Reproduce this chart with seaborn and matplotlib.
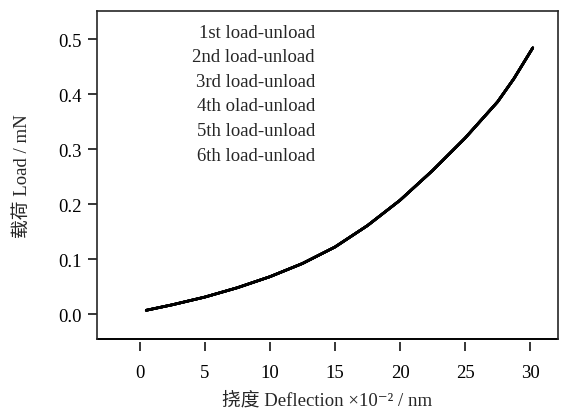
import pandas as pd
import numpy as np
import matplotlib
matplotlib.use("Agg")
import matplotlib.pyplot as plt
import seaborn as sns

# deflection (x10^-2 nm) and load (mN);
# the six cycles lie on top of each other
deflection = [0.5, 2.5, 5, 7.5, 10, 12.5, 15, 17.5, 20, 22.5, 25, 27.5, 28.75, 30.2]
load_1st = [0.007, 0.017, 0.031, 0.048, 0.068, 0.092, 0.122, 0.161, 0.207, 0.261, 0.320, 0.386, 0.428, 0.484]
load_2nd = [0.007, 0.017, 0.031, 0.048, 0.068, 0.092, 0.122, 0.161, 0.207, 0.261, 0.320, 0.386, 0.428, 0.484]
load_3rd = [0.007, 0.017, 0.031, 0.048, 0.068, 0.092, 0.122, 0.161, 0.207, 0.261, 0.320, 0.386, 0.428, 0.484]
load_4th = [0.007, 0.017, 0.031, 0.048, 0.068, 0.092, 0.122, 0.161, 0.207, 0.261, 0.320, 0.386, 0.428, 0.484]
load_5th = [0.007, 0.017, 0.031, 0.048, 0.068, 0.092, 0.122, 0.161, 0.207, 0.261, 0.320, 0.386, 0.428, 0.484]
load_6th = [0.007, 0.017, 0.031, 0.048, 0.068, 0.092, 0.122, 0.161, 0.207, 0.261, 0.320, 0.386, 0.428, 0.484]

cycle_labels = ["1st load-unload", "2nd load-unload", "3rd load-unload",
                "4th olad-unload", "5th load-unload", "6th load-unload"]
loads = [load_1st, load_2nd, load_3rd, load_4th, load_5th, load_6th]

df = pd.concat([pd.DataFrame({"Deflection": deflection, "Load": l, "Cycle": lab})
                for l, lab in zip(loads, cycle_labels)], ignore_index=True)

sns.set_style("ticks")
plt.rcParams['font.family'] = ['Liberation Serif', 'Noto Sans CJK SC', 'DejaVu Serif']

fs = 13.5
fig = plt.figure(figsize=(5.76, 4.14), dpi=100)
ax = fig.add_axes([0.168, 0.179, 0.801, 0.792])

sns.lineplot(data=df, x="Deflection", y="Load", hue="Cycle",
             palette=["black"] * 6, linewidth=1.9, ax=ax, legend=True)

ax.set_xlim(-3.3, 32.15)
ax.set_ylim(-0.045, 0.551)
ax.set_xticks([0, 5, 10, 15, 20, 25, 30])
ax.set_yticks([0.0, 0.1, 0.2, 0.3, 0.4, 0.5])
ax.set_yticklabels(["0.0", "0.1", "0.2", "0.3", "0.4", "0.5"])
ax.tick_params(labelsize=fs, length=6.5, width=1.1, colors="black")
ax.tick_params(axis="x", pad=9)
ax.tick_params(axis="y", pad=4)

# frame box, with x ticks slightly detached below it
for side in ["top", "right", "left"]:
    ax.spines[side].set_visible(True)
    ax.spines[side].set_linewidth(1.2)
ax.spines["bottom"].set_position(("outward", 2.5))
ax.spines["bottom"].set_visible(False)
ax.plot([0, 1], [0, 0], transform=ax.transAxes, color="black", lw=1.4, clip_on=False)

ax.set_xlabel("挠度 Deflection ×10⁻² / nm", fontsize=fs, labelpad=7)
ax.set_ylabel("载荷 Load / mN", fontsize=fs, labelpad=20)

handles, labels = ax.get_legend_handles_labels()
leg = ax.legend(handles, labels, loc="upper right", bbox_to_anchor=(0.473, 0.962),
                frameon=False, fontsize=fs, handlelength=0, handletextpad=0,
                markerfirst=False, labelspacing=0.4, borderpad=0, borderaxespad=0)
for h in leg.legend_handles:
    h.set_visible(False)

fig.savefig("out.png", dpi=100)
